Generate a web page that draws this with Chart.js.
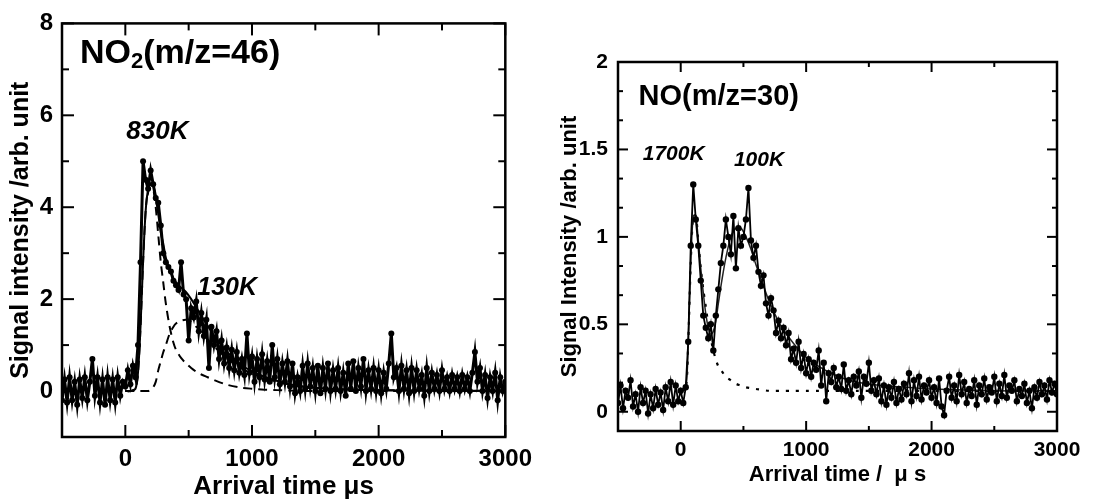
<!DOCTYPE html>
<html>
<head>
<meta charset="utf-8">
<script src="https://cdn.jsdelivr.net/npm/chart.js@4"></script>
<style>
  html, body { margin: 0; padding: 0; background: #fff; }
  body { width: 1109px; height: 502px; position: relative; overflow: hidden; }
  .panel { position: absolute; top: 0; height: 502px; }
  #left { left: 0; width: 540px; }
  #right { left: 555px; width: 554px; }
</style>
</head>
<body>
<div class="panel" id="left"><canvas id="no2"></canvas></div>
<div class="panel" id="right"><canvas id="no"></canvas></div>
<script>
// sample times (µs), shared by both traces
const times = [
  -500, -480, -460, -440, -420, -400, -380, -360, -340, -320,
  -300, -280, -260, -240, -220, -200, -180, -160, -140, -120,
  -100, -80, -60, -40, -20, 0, 20, 40, 60, 80,
  100, 120, 140, 160, 180, 200, 220, 240, 260, 280,
  300, 320, 340, 360, 380, 400, 420, 440, 460, 480,
  500, 520, 540, 560, 580, 600, 620, 640, 660, 680,
  700, 720, 740, 760, 780, 800, 820, 840, 860, 880,
  900, 920, 940, 960, 980, 1000, 1020, 1040, 1060, 1080,
  1100, 1120, 1140, 1160, 1180, 1200, 1220, 1240, 1260, 1280,
  1300, 1320, 1340, 1360, 1380, 1400, 1420, 1440, 1460, 1480,
  1500, 1520, 1540, 1560, 1580, 1600, 1620, 1640, 1660, 1680,
  1700, 1720, 1740, 1760, 1780, 1800, 1820, 1840, 1860, 1880,
  1900, 1920, 1940, 1960, 1980, 2000, 2020, 2040, 2060, 2080,
  2100, 2120, 2140, 2160, 2180, 2200, 2220, 2240, 2260, 2280,
  2300, 2320, 2340, 2360, 2380, 2400, 2420, 2440, 2460, 2480,
  2500, 2520, 2540, 2560, 2580, 2600, 2620, 2640, 2660, 2680,
  2700, 2720, 2740, 2760, 2780, 2800, 2820, 2840, 2860, 2880,
  2900, 2920, 2940, 2960, 2980, 3000
];

// NO2 (m/z=46) signal
const no2Signal = [
  -0.2, 0.25, -0.25, 0.3, -0.2, 0.2, -0.3, 0.25, -0.15, 0.3,
  -0.2, 0.2, 0.7, -0.1, 0.3, -0.25, 0.25, -0.3, 0.3, -0.2,
  0.25, -0.25, 0.3, -0.1, 0.2, 0.1, 0.45, 0.15, 0.55, 0.3,
  1.0, 2.8, 5.0, 4.6, 4.4, 4.8, 4.5, 4.2, 4.1, 3.6,
  3.0, 2.8, 2.7, 2.6, 2.4, 2.3, 2.2, 2.8, 2.1, 2.0,
  1.1, 1.8, 1.6, 1.95, 1.3, 1.7, 1.2, 1.55, 0.5, 1.4,
  1.0, 1.3, 0.7, 1.1, 0.6, 0.95, 0.5, 0.9, 0.45, 0.85,
  0.4, 0.7, 0.35, 1.25, 0.4, 0.75, 0.2, 0.7, 0.3, 0.8,
  0.25, 0.65, 0.2, 1.0, 0.3, 0.7, 0.15, 0.6, 0.2, 0.65,
  0.1, 0.6, -0.05, 0.3, 0.0, 0.55, 0.05, 0.6, 0.1, 0.5,
  0.0, 0.55, -0.05, 0.5, 0.05, 0.6, 0.0, 0.45, 0.05, 0.5,
  0.0, 0.4, -0.1, 0.6, 0.05, 0.65, 0.0, 0.5, 0.1, 0.7,
  0.0, 0.45, 0.05, 0.5, 0.0, 0.45, -0.05, 0.4, 0.05, 0.6,
  1.25, 0.3, 0.5, 0.0, 0.55, 0.05, 0.45, -0.05, 0.5, 0.0,
  0.45, 0.05, 0.35, -0.1, 0.5, 0.0, 0.4, 0.05, 0.35, 0.0,
  0.45, 0.05, 0.3, 0.0, 0.35, 0.05, 0.3, 0.0, 0.35, 0.05,
  0.3, 0.0, 0.4, 0.85, 0.2, 0.5, 0.0, 0.35, -0.15, 0.3,
  0.0, 0.4, -0.2, 0.3, 0.0, 0.2
];

// NO (m/z=30) signal
const noSignal = [
  0.05, 0.15, 0.02, 0.12, 0.08, 0.18, 0.03, 0.1, 0.0, 0.14,
  0.05, 0.12, -0.01, 0.1, 0.02, 0.13, 0.04, 0.11, 0.01, 0.14,
  0.06, 0.17, 0.04, 0.15, 0.06, 0.12, 0.05, 0.14, 0.4, 0.95,
  1.3, 1.1, 0.95, 0.75, 0.55, 0.48, 0.42, 0.5, 0.35, 0.55,
  0.7, 0.85, 0.95, 1.1, 1.0, 0.9, 1.12, 0.82, 1.05, 0.95,
  1.0, 1.1, 1.28, 0.98, 0.88, 0.95, 0.8, 0.72, 0.78, 0.62,
  0.55, 0.65, 0.58, 0.45, 0.52, 0.42, 0.48, 0.38, 0.45, 0.3,
  0.36, 0.28, 0.4, 0.25, 0.33, 0.22, 0.3, 0.2, 0.28, 0.24,
  0.35, 0.15, 0.28, 0.06, 0.22, 0.17, 0.25, 0.14, 0.2, 0.13,
  0.27, 0.12, 0.18, 0.1, 0.2, 0.15, 0.23, 0.08, 0.2, 0.16,
  0.28, 0.12, 0.18, 0.1, 0.19, 0.06, 0.15, 0.04, 0.14, 0.08,
  0.17, 0.05, 0.13, 0.07, 0.16, 0.1, 0.22, 0.06, 0.18, 0.09,
  0.2, 0.07, 0.15, 0.11, 0.18, 0.08, 0.14, 0.05, 0.19, 0.03,
  -0.02, 0.12, 0.2, 0.08, 0.15, 0.06, 0.21, 0.1, 0.17, 0.05,
  0.13, 0.09, 0.18, 0.04, 0.15, 0.1, 0.19, 0.07, 0.14, 0.11,
  0.2, 0.06, 0.16, 0.09, 0.21, 0.08, 0.15, 0.12, 0.18, 0.06,
  0.13, 0.09, 0.16, 0.05, 0.12, 0.02, 0.14, 0.08, 0.17, 0.1,
  0.15, 0.07, 0.18, 0.11, 0.16, 0.1
];

// fitted curves, NO2 panel
const fitTimesNO2 = [0, 40, 80, 100, 120, 140, 160, 180, 200, 220, 240, 260, 280, 300, 320, 350, 380, 400, 440, 480, 520, 560, 600, 650, 700, 800, 900, 1000, 1100, 1200, 1300, 1400, 1600, 1800, 2000, 2500, 3000];
const fit830K =  [0, 0, 0.05, 0.4, 1.4, 2.8, 3.9, 4.4, 4.5, 4.4, 4.0, 3.4, 2.8, 2.35, 1.9, 1.4, 1.05, 0.9, 0.72, 0.6, 0.5, 0.42, 0.36, 0.3, 0.24, 0.14, 0.08, 0.05, 0.03, 0.02, 0.01, 0, 0, 0, 0, 0, 0];
const fit130K =  [0, 0, 0, 0, 0, 0, 0, 0, 0.02, 0.08, 0.2, 0.45, 0.65, 0.85, 1.0, 1.25, 1.4, 1.47, 1.53, 1.55, 1.5, 1.4, 1.28, 1.12, 0.97, 0.72, 0.52, 0.38, 0.28, 0.2, 0.14, 0.1, 0.05, 0.03, 0.02, 0.01, 0];
const fitNO2Sum = [0, 0, 0.05, 0.4, 1.4, 2.8, 3.9, 4.4, 4.52, 4.48, 4.2, 3.85, 3.45, 3.2, 2.9, 2.65, 2.45, 2.37, 2.25, 2.15, 2.0, 1.82, 1.64, 1.42, 1.21, 0.86, 0.6, 0.43, 0.31, 0.22, 0.15, 0.1, 0.05, 0.03, 0.02, 0.01, 0];

// fitted curves, NO panel
const fitTimesNO = [0, 40, 60, 80, 100, 120, 140, 160, 180, 200, 220, 240, 260, 280, 300, 330, 360, 400, 440, 480, 520, 560, 600, 650, 700, 750, 800, 900, 1000, 1100, 1200, 1300, 1400, 1600, 1800, 2000, 2500, 3000];
const fit1700K = [0.12, 0.13, 0.4, 0.85, 1.12, 1.12, 0.98, 0.82, 0.7, 0.6, 0.5, 0.42, 0.35, 0.3, 0.26, 0.23, 0.2, 0.18, 0.16, 0.15, 0.14, 0.135, 0.13, 0.125, 0.12, 0.12, 0.12, 0.12, 0.12, 0.12, 0.12, 0.12, 0.12, 0.12, 0.12, 0.12, 0.12, 0.12];
const fitNOSum = [0.12, 0.13, 0.4, 0.85, 1.12, 1.12, 0.98, 0.82, 0.68, 0.56, 0.48, 0.44, 0.46, 0.52, 0.62, 0.76, 0.88, 1.0, 1.05, 1.05, 1.0, 0.93, 0.84, 0.74, 0.64, 0.56, 0.49, 0.39, 0.31, 0.26, 0.22, 0.19, 0.17, 0.15, 0.14, 0.13, 0.12, 0.12];

// axis ticks
const xTickLabels = [0, 1000, 2000, 3000];
const xMinorTicks = [-500, 500, 1500, 2500];
const no2YTicks = [0, 2, 4, 6, 8];
const no2YMinor = [-1, 1, 3, 5, 7];
const noYTicks = [0, 0.5, 1, 1.5, 2];
const noYMinor = [1/6, 2/6, 4/6, 5/6, 7/6, 8/6, 10/6, 11/6];

const FONT = '"Liberation Sans", Arial, Helvetica, sans-serif';
Chart.defaults.font.family = FONT;
Chart.defaults.color = '#000';

const pts = (xs, ys) => xs.map((x, i) => ({ x: x, y: ys[i] }));

// frame + inward ticks on all four sides, plus text labels in data coordinates
const framePlugin = {
  id: 'frame',
  afterDatasetsDraw(chart, args, o) {
    const { ctx, chartArea: a, scales: { x, y } } = chart;
    ctx.save();
    ctx.strokeStyle = '#000';
    ctx.lineWidth = o.border;
    ctx.strokeRect(a.left, a.top, a.right - a.left, a.bottom - a.top);
    ctx.lineWidth = o.tickWidth;
    const seg = (x1, y1, x2, y2) => { ctx.beginPath(); ctx.moveTo(x1, y1); ctx.lineTo(x2, y2); ctx.stroke(); };
    const xt = (vals, len) => vals.forEach(v => {
      const p = x.getPixelForValue(v);
      seg(p, a.bottom, p, a.bottom - len);
      seg(p, a.top, p, a.top + len);
    });
    const yt = (vals, len) => vals.forEach(v => {
      const p = y.getPixelForValue(v);
      seg(a.left, p, a.left + len, p);
      seg(a.right, p, a.right - len, p);
    });
    xt(o.xMajor, o.major); xt(o.xMinor, o.minor);
    yt(o.yMajor, o.major); yt(o.yMinor, o.minor);

    ctx.fillStyle = '#000';
    ctx.textBaseline = 'middle';
    o.labels.forEach(l => {
      const px = x.getPixelForValue(l.x), py = y.getPixelForValue(l.y);
      ctx.font = l.font;
      ctx.textAlign = l.align || 'left';
      if (l.sub) {
        // chemical formula with subscript
        ctx.textAlign = 'left';
        let cx = px;
        ctx.fillText(l.text, cx, py);
        cx += ctx.measureText(l.text).width;
        ctx.font = l.subFont;
        ctx.fillText(l.sub, cx, py + l.subShift);
        cx += ctx.measureText(l.sub).width;
        ctx.font = l.font;
        ctx.fillText(l.rest, cx, py);
      } else {
        ctx.fillText(l.text, px, py);
      }
    });
    ctx.restore();
  }
};

function makeScales(cfg) {
  return {
    x: {
      type: 'linear', min: -500, max: 3000,
      grid: { display: false, drawTicks: false },
      border: { display: false },
      ticks: { font: { size: cfg.tickSize, weight: 'bold' }, padding: cfg.xTickPad, maxRotation: 0, callback: v => String(v) },
      afterBuildTicks: s => { s.ticks = xTickLabels.map(v => ({ value: v })); },
      afterFit: s => { s.height = cfg.xHeight; },
      title: { display: true, text: cfg.xTitle, font: { size: cfg.titleSize, weight: 'bold' }, padding: { top: 0, bottom: cfg.xTitlePad } }
    },
    y: {
      type: 'linear', min: cfg.yMin, max: cfg.yMax,
      grid: { display: false, drawTicks: false },
      border: { display: false },
      ticks: { font: { size: cfg.tickSize, weight: 'bold' }, padding: cfg.yTickPad, callback: v => String(v) },
      afterBuildTicks: s => { s.ticks = cfg.yTicks.map(v => ({ value: v })); },
      afterFit: s => { s.width = cfg.yWidth; },
      title: { display: true, text: cfg.yTitle, font: { size: cfg.yTitleSize, weight: 'bold' }, padding: { top: cfg.yTitlePad, bottom: 0 } }
    }
  };
}

// left: NO2
new Chart(document.getElementById('no2'), {
  type: 'scatter',
  data: {
    datasets: [
      { data: pts(times, no2Signal), showLine: true, borderColor: '#000', backgroundColor: '#000', borderWidth: 3, pointRadius: 3, pointBorderWidth: 0 },
      { data: pts(fitTimesNO2, fitNO2Sum), showLine: true, borderColor: '#000', borderWidth: 2, pointRadius: 0, tension: 0.3 },
      { data: pts(fitTimesNO2, fit830K), showLine: true, borderColor: '#000', borderWidth: 2, borderDash: [9, 6], pointRadius: 0, tension: 0.3 },
      { data: pts(fitTimesNO2, fit130K), showLine: true, borderColor: '#000', borderWidth: 2, borderDash: [9, 6], pointRadius: 0, tension: 0.3 }
    ]
  },
  options: {
    responsive: true, maintainAspectRatio: false, animation: false,
    layout: { padding: { left: 0, top: 20, right: 30, bottom: 0 } },
    plugins: {
      legend: { display: false }, tooltip: { enabled: false },
      frame: {
        border: 2.5, tickWidth: 2, major: 12, minor: 7,
        xMajor: xTickLabels, xMinor: xMinorTicks, yMajor: no2YTicks, yMinor: no2YMinor,
        labels: [
          { text: 'NO', sub: '2', rest: '(m/z=46)', x: -358, y: 7.35, font: 'bold 34px ' + FONT, subFont: 'bold 22px ' + FONT, subShift: 9 },
          { text: '830K', x: 253, y: 5.65, align: 'center', font: 'italic bold 26px ' + FONT },
          { text: '130K', x: 804, y: 2.24, align: 'center', font: 'italic bold 25px ' + FONT }
        ]
      }
    },
    scales: makeScales({
      tickSize: 24, titleSize: 26, yTitleSize: 25, xTickPad: 8, xHeight: 65, xTitlePad: 0,
      yMin: -1, yMax: 8, yTicks: no2YTicks, yTickPad: 9, yWidth: 62, yTitlePad: 6,
      xTitle: 'Arrival time μs', yTitle: 'Signal intensity /arb. unit'
    })
  },
  plugins: [framePlugin]
});

// right: NO
new Chart(document.getElementById('no'), {
  type: 'scatter',
  data: {
    datasets: [
      { data: pts(times, noSignal), showLine: true, borderColor: '#000', backgroundColor: '#000', borderWidth: 1.8, pointRadius: 3.2, pointBorderWidth: 0 },
      { data: pts(fitTimesNO, fitNOSum), showLine: true, borderColor: '#222', borderWidth: 1.5, pointRadius: 0, tension: 0.3 },
      { data: pts(fitTimesNO, fit1700K), showLine: true, borderColor: '#000', borderWidth: 2.2, borderDash: [3, 7], pointRadius: 0, tension: 0.3 }
    ]
  },
  options: {
    responsive: true, maintainAspectRatio: false, animation: false,
    layout: { padding: { left: 0, top: 62, right: 52, bottom: 0 } },
    plugins: {
      legend: { display: false }, tooltip: { enabled: false },
      frame: {
        border: 2.5, tickWidth: 2, major: 10, minor: 5,
        xMajor: xTickLabels, xMinor: xMinorTicks, yMajor: noYTicks, yMinor: noYMinor,
        labels: [
          { text: 'NO(m/z=30)', x: -336, y: 1.8, font: 'bold 29px ' + FONT },
          { text: '1700K', x: -56, y: 1.47, align: 'center', font: 'italic bold 21px ' + FONT },
          { text: '100K', x: 624, y: 1.44, align: 'center', font: 'italic bold 21px ' + FONT }
        ]
      }
    },
    scales: makeScales({
      tickSize: 21, titleSize: 22, yTitleSize: 22, xTickPad: 7, xHeight: 71, xTitlePad: 14,
      yMin: -0.11, yMax: 2, yTicks: noYTicks, yTickPad: 10, yWidth: 63, yTitlePad: 2,
      xTitle: 'Arrival time /  μ s', yTitle: 'Signal Intensity /arb. unit'
    })
  },
  plugins: [framePlugin]
});
</script>
</body>
</html>
